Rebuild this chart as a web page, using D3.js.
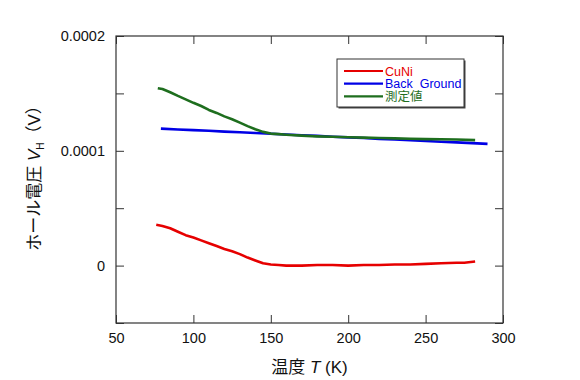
<!DOCTYPE html>
<html>
<head>
<meta charset="utf-8">
<script src="https://cdn.jsdelivr.net/npm/d3@7"></script>
<style>
body{margin:0;background:#fff;}
text{font-family:"Liberation Sans",Arial,"Noto Sans CJK JP",sans-serif;}
</style>
</head>
<body>
<div id="chart"></div>
<script>
// 数据（温度 K, 电压 V）
const tCuni=[76,80,85,90,95,100,105,110,115,120,125,130,135,140,145,150,155,160,170,180,190,200,210,220,230,240,250,260,270,275,282];
const vCuni=[3.55e-5,3.45e-5,3.25e-5,2.95e-5,2.65e-5,2.45e-5,2.2e-5,1.95e-5,1.7e-5,1.45e-5,1.25e-5,1.0e-5,0.7e-5,0.45e-5,0.2e-5,0.1e-5,0.05e-5,0,0,0.05e-5,0.05e-5,0,0.05e-5,0.05e-5,0.1e-5,0.1e-5,0.15e-5,0.2e-5,0.25e-5,0.25e-5,0.35e-5];

const tBg=[79,90,100,110,120,130,140,150,160,170,180,190,200,210,220,230,240,250,260,270,280,290];
const vBg=[1.193e-4,1.186e-4,1.18e-4,1.174e-4,1.167e-4,1.161e-4,1.155e-4,1.148e-4,1.142e-4,1.136e-4,1.13e-4,1.123e-4,1.117e-4,1.111e-4,1.104e-4,1.098e-4,1.092e-4,1.086e-4,1.079e-4,1.073e-4,1.067e-4,1.06e-4];

const tMeas=[77,80,85,90,95,100,105,110,115,120,125,130,135,140,145,150,155,160,170,180,190,200,210,220,230,240,250,260,270,282];
const vMeas=[1.545e-4,1.538e-4,1.51e-4,1.478e-4,1.448e-4,1.418e-4,1.39e-4,1.356e-4,1.33e-4,1.3e-4,1.275e-4,1.245e-4,1.215e-4,1.188e-4,1.165e-4,1.15e-4,1.145e-4,1.14e-4,1.132e-4,1.126e-4,1.122e-4,1.118e-4,1.115e-4,1.112e-4,1.108e-4,1.105e-4,1.102e-4,1.1e-4,1.098e-4,1.093e-4];

const seriesNames=["CuNi","Back  Ground","測定値"];
const seriesColors=["#e60000","#0000e6","#1e6e1e"];
const xTicks=[50,100,150,200,250,300];
const yTicks=[-0.00005,0,0.00005,0.0001,0.00015,0.0002];
const yLabelTicks=[0,0.0001,0.0002];
const yLabelText=["0","0.0001","0.0002"];

const width=580,height=380;
const margin={left:116,right:77,top:36,bottom:57};
const innerWidth=width-margin.left-margin.right;
const innerHeight=height-margin.top-margin.bottom;

const svg=d3.select("#chart").append("svg").attr("width",width).attr("height",height);
const g=svg.append("g").attr("transform",`translate(${margin.left},${margin.top})`);

const xScale=d3.scaleLinear().domain([50,300]).range([0,innerWidth]);
const yScale=d3.scaleLinear().domain([-0.00005,0.0002]).range([innerHeight,0]);

// 四边的轴（刻度朝内）
const axisStyle=sel=>{
    sel.select(".domain").remove();
    sel.selectAll("line").attr("stroke","#333");
    sel.selectAll("text").attr("font-size",14.5).attr("fill","#111")
        .style("font-family",'"Liberation Sans",Arial,sans-serif');
};
const noLabels=sel=>{sel.selectAll("text").remove();};

g.append("g").attr("transform",`translate(0,${innerHeight})`)
    .call(d3.axisBottom(xScale).tickValues(xTicks).tickSize(-8).tickPadding(10).tickFormat(d3.format("d")))
    .call(axisStyle);
g.append("g")
    .call(d3.axisTop(xScale).tickValues(xTicks).tickSize(-8))
    .call(axisStyle).call(noLabels);
// 左轴：小刻度 + 带标签的主刻度
g.append("g")
    .call(d3.axisLeft(yScale).tickValues(yTicks).tickSize(-8))
    .call(axisStyle).call(noLabels);
g.append("g")
    .call(d3.axisLeft(yScale).tickValues(yLabelTicks).tickSize(0).tickPadding(11)
        .tickFormat((d,i)=>yLabelText[i]))
    .call(axisStyle);
g.append("g").attr("transform",`translate(${innerWidth},0)`)
    .call(d3.axisRight(yScale).tickValues(yTicks).tickSize(-8))
    .call(axisStyle).call(noLabels);

g.append("rect").attr("width",innerWidth).attr("height",innerHeight)
    .attr("fill","none").attr("stroke","#333").attr("stroke-width",1.2);

// 曲线
const line=d3.line().x(d=>xScale(d[0])).y(d=>yScale(d[1]));
const series=[
    d3.zip(tCuni,vCuni),
    d3.zip(tBg,vBg),
    d3.zip(tMeas,vMeas)
];
[1,2,0].forEach(i=>{
    g.append("path").datum(series[i])
        .attr("d",line).attr("fill","none")
        .attr("stroke",seriesColors[i]).attr("stroke-width",2.6)
        .attr("stroke-linejoin","round");
});

// 图例
const lg=svg.append("g").attr("transform","translate(337,59)");
lg.append("rect").attr("x",1.5).attr("y",1.5).attr("width",127).attr("height",48).attr("fill","#444");
lg.append("rect").attr("width",127).attr("height",48).attr("fill","#fff").attr("stroke","#333").attr("stroke-width",1);
seriesNames.forEach((name,i)=>{
    const y=12+i*12.7;
    lg.append("line").attr("x1",7).attr("x2",46).attr("y1",y).attr("y2",y)
        .attr("stroke",seriesColors[i]).attr("stroke-width",2.2);
    lg.append("text").attr("x",48).attr("y",y+4.5).attr("font-size",12.5)
        .attr("fill",seriesColors[i]).style("white-space","pre").text(name);
});

// 坐标轴标题
const xt=svg.append("text").attr("x",margin.left+innerWidth/2).attr("y",373)
    .attr("text-anchor","middle").attr("font-size",17).attr("fill","#111");
xt.append("tspan").text("温度 ");
xt.append("tspan").attr("font-style","italic").text("T");
xt.append("tspan").text(" (K)");

const yt=svg.append("text").attr("transform","translate(40,174) rotate(-90)")
    .attr("text-anchor","middle").attr("font-size",17).attr("fill","#111");
yt.append("tspan").text("ホール電圧  ");
yt.append("tspan").attr("font-style","italic").text("V");
yt.append("tspan").attr("font-size",10).attr("dy",4).text("H");
yt.append("tspan").attr("dy",-4).text("（V）");
</script>
</body>
</html>
